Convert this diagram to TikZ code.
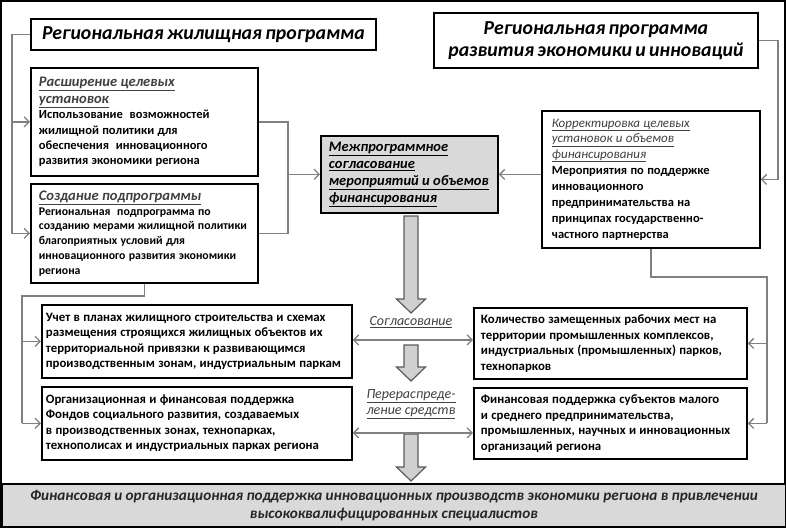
\documentclass[tikz,border=0pt]{standalone}
\usepackage{fontspec}
\setmainfont{Carlito}
\usetikzlibrary{arrows.meta}
\definecolor{conncol}{HTML}{808080}
\definecolor{headgray}{HTML}{404040}
\definecolor{barfill}{HTML}{D9D9D9}
\definecolor{cfill}{HTML}{D9D9D9}
\definecolor{arrfill}{HTML}{D0D0D0}
\definecolor{arrline}{HTML}{5A5A5A}
\newcommand{\titlefnt}{\fontsize{19.8}{22}\selectfont\bfseries\itshape}
\newcommand{\headfnt}{\fontsize{14.6}{17}\selectfont\bfseries\itshape\color{headgray}}
\newcommand{\bodyfnt}{\fontsize{12.5}{15.4}\selectfont\bfseries}
\newcommand{\rowfnt}{\fontsize{12.8}{15.5}\selectfont\bfseries}
\newcommand{\blkarrow}[3]{\draw[blockarr] (#1-7,#2) -- (#1+7,#2) -- (#1+7,#3-14) -- (#1+14.5,#3-14) -- (#1,#3) -- (#1-14.5,#3-14) -- (#1-7,#3-14) -- cycle;}
\begin{document}
\begin{tikzpicture}[x=1pt,y=-1pt,
  box/.style={draw=black,line width=1.8pt,fill=white,anchor=north west,inner xsep=8pt,inner ysep=0pt,align=left},
  conn/.style={draw=conncol,line width=1.3pt},
  connarr/.style={conn,-{Straight Barb[length=5pt,width=10pt]}},
  dblarr/.style={conn,{Straight Barb[length=5pt,width=10pt]}-{Straight Barb[length=5pt,width=10pt]}},
  blockarr/.style={fill=arrfill,draw=arrline,line width=1.2pt},
  lab/.style={font=\fontsize{14}{16}\selectfont\itshape,text=headgray,inner sep=0pt,align=center}
]
\useasboundingbox (0,0) rectangle (786,528);
\draw[black,line width=2pt] (1,1) rectangle (785,527);

% titles
\node[box,minimum width=345pt,minimum height=31pt,align=center,text width=329pt] (t1) at (30,18)
  {\titlefnt Региональная жилищная программа};
\node[box,minimum width=324pt,minimum height=55pt,align=center,text width=308pt] (t2) at (433,12)
  {\titlefnt Региональная программа\\ развития экономики и инноваций\par};

% left column boxes
\node[box,minimum width=227pt,minimum height=108pt,text width=211pt] (b1) at (30,67)
  {{\headfnt \underline{Расширение целевых}\\ \underline{установок}\par}
   {\bodyfnt Использование\ \ возможностей\\ жилищной политики для\\ обеспечения\ \ инновационного\\ развития экономики региона\par}};
\node[box,minimum width=227pt,minimum height=99pt,text width=211pt] (b2) at (30,183)
  {{\headfnt \underline{Создание подпрограммы}\par}
   {\fontsize{11.8}{14.7}\selectfont\bfseries \mbox{Региональная\ \ подпрограмма по}\\ \mbox{созданию мерами жилищной политики}\\ \mbox{благоприятных условий для}\\ \mbox{инновационного развития экономики}\\ региона\par}};

% center box
\node[box,fill=cfill,minimum width=177pt,minimum height=77pt,text width=161pt] (c) at (320,135)
  {\fontsize{14.5}{17}\selectfont\bfseries\itshape \underline{Межпрограммное}\\ \underline{согласование}\\ \underline{мероприятий и объемов}\\ \underline{финансирования}\par};

% right box
\node[box,inner xsep=10pt,minimum width=218pt,minimum height=137pt,text width=198pt] (r) at (541,110)
  {{\fontsize{13}{15.5}\selectfont\itshape\color{headgray}\underline{Корректировка целевых}\\ \underline{установок и объемов}\\ \underline{финансирования}\par}
   {\fontsize{12.5}{16}\selectfont\bfseries Мероприятия по поддержке\\ инновационного\\ предпринимательства на\\ принципах государственно-\\ частного партнерства\par}};

% row boxes
\node[box,inner xsep=4pt,minimum width=310pt,minimum height=73pt,text width=302pt] (l1) at (41,304)
  {\rowfnt Учет в планах жилищного строительства и схемах\\ размещения строящихся жилищных объектов их\\ территориальной привязки к развивающимся\\ производственным зонам, индустриальным паркам\par};
\node[box,inner xsep=4pt,minimum width=310pt,minimum height=73pt,text width=302pt] (l2) at (41,386)
  {\rowfnt Организационная и финансовая поддержка\\ Фондов социального развития, создаваемых\\ в производственных зонах, технопарках,\\ технополисах и индустриальных парках региона\par};
\node[box,inner xsep=7pt,minimum width=273pt,minimum height=71pt,text width=259pt] (r1) at (473,307)
  {\rowfnt Количество замещенных рабочих мест на\\ территории промышленных комплексов,\\ индустриальных (промышленных) парков,\\ технопарков\par};
\node[box,inner xsep=7pt,minimum width=273pt,minimum height=71pt,text width=259pt] (r2) at (473,387)
  {\rowfnt Финансовая поддержка субъектов малого\\ и среднего предпринимательства,\\ промышленных, научных и инновационных\\ организаций региона\par};

% bottom bar
\node[draw=black,line width=1.8pt,fill=barfill,anchor=north west,minimum width=784pt,minimum height=43pt,inner sep=0pt,align=center,text width=780pt] (bar) at (1,483)
  {\fontsize{15.2}{18}\selectfont\bfseries\itshape\color{black!85} Финансовая и организационная поддержка инновационных производств экономики региона в привлечении\\ высококвалифицированных специалистов\par};

% labels
\node[lab] (s1) at (411,322) {\underline{Согласование}};
\node[lab] (s2) at (411,404) {\underline{Перераспреде-}\\ \underline{ление средств}};

% block arrows
\blkarrow{411}{216}{313}
\blkarrow{411}{345}{381}
\blkarrow{411}{434}{481}

% helper coordinates
\coordinate (lx) at (12,0);
\coordinate (mx) at (288,0);
\coordinate (rx) at (778,0);
\coordinate (lx2) at (22,0);
\coordinate (ly) at (0,296);
\coordinate (rx2) at (767,0);
\coordinate (ry) at (0,277);

% left connectors
\draw[connarr] (t1.west) -- (t1.west -| lx) -- (b2.west -| lx) -- (b2.west);
\draw[connarr] (b1.west -| lx) -- (b1.west);
\draw[conn] (b1.east) -- (b1.east -| mx) -- (c.west -| mx);
\draw[conn] (b2.east) -- (b2.east -| mx) -- (c.west -| mx);
\draw[connarr] (c.west -| mx) -- (c.west);
\draw[conn] (b2.south) -- (b2.south |- ly) -- (lx2 |- ly) -- (lx2 |- l2.west);
\draw[connarr] (lx2 |- l1.west) -- (l1.west);
\draw[connarr] (lx2 |- l2.west) -- (l2.west);

% right connectors
\draw[connarr] (t2.east) -- (t2.east -| rx) -- (r.east -| rx) -- (r.east);
\draw[connarr] (c.east -| r.west) -- (c.east);
\draw[conn] (r.south) -- (r.south |- ry) -- (rx2 |- ry) -- (rx2 |- r2.east);
\draw[connarr] (rx2 |- r1.east) -- (r1.east);
\draw[connarr] (rx2 |- r2.east) -- (r2.east);

% double arrows
\draw[dblarr] ([yshift=1.5pt]l1.east) -- ([yshift=1.5pt]l1.east -| r1.west);
\draw[dblarr] ([yshift=-9.5pt]l2.east) -- ([yshift=-9.5pt]l2.east -| r2.west);
\end{tikzpicture}
\end{document}
